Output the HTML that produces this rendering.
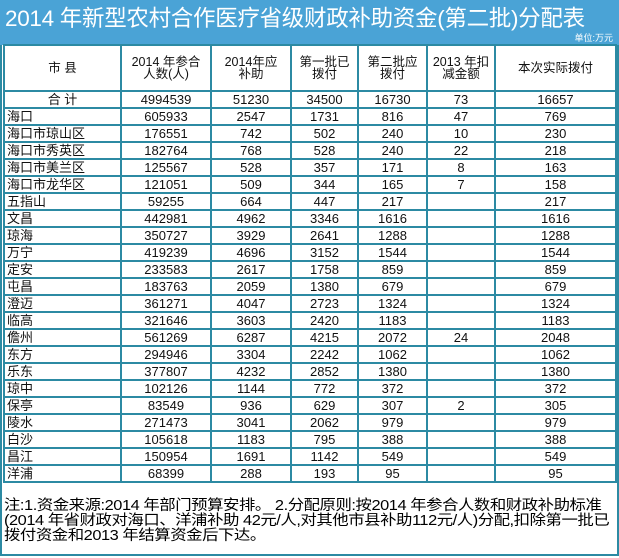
<!DOCTYPE html>
<html><head><meta charset="utf-8"><style>
body{margin:0;width:619px;height:558px;background:#fff;font-family:"Liberation Sans","Noto Sans CJK SC",sans-serif;overflow:hidden;position:relative}
#hd{position:absolute;left:0;top:0;width:619px;height:45px;background:#4aa3d6}
#t{position:absolute;left:5px;top:1px;font-size:22.5px;color:#fff;white-space:nowrap;letter-spacing:-0.3px}
#u{position:absolute;right:6px;top:31px;font-size:9px;color:#fff}
#frame{position:absolute;left:0;top:45px;width:615px;height:509px;border:2px solid #2c8aa3;border-top:none;background:#fff}
table{position:absolute;left:3px;top:44px;border-collapse:collapse;table-layout:fixed;font-size:13px;color:#111}
td{border:2px solid #2c8aa3;height:15px;padding:0;text-align:center;line-height:15px;overflow:hidden;white-space:nowrap}
td.l{text-align:left;padding-left:2px}
tr.h td{height:44px;font-size:12.5px;line-height:12px}
#note{position:absolute;left:4px;top:499px;font-size:14.5px;line-height:15px;color:#000;letter-spacing:-0.4px;white-space:nowrap;transform:scaleX(1.13);transform-origin:0 0}
</style></head><body>
<div id="frame"></div>
<div id="hd"><div id="t">2014 年新型农村合作医疗省级财政补助资金(第二批)分配表</div><div id="u">单位:万元</div></div>
<table>
<colgroup><col style="width:117px"><col style="width:90px"><col style="width:80px"><col style="width:67px"><col style="width:69px"><col style="width:68px"><col style="width:121px"></colgroup>
<tr class="h"><td>市 县</td><td>2014 年参合<br>人数(人)</td><td>2014年应<br>补助</td><td>第一批已<br>拨付</td><td>第二批应<br>拨付</td><td>2013 年扣<br>减金额</td><td>本次实际拨付</td></tr>
<tr><td>合 计</td><td>4994539</td><td>51230</td><td>34500</td><td>16730</td><td>73</td><td>16657</td></tr>
<tr><td class="l">海口</td><td>605933</td><td>2547</td><td>1731</td><td>816</td><td>47</td><td>769</td></tr>
<tr><td class="l">海口市琼山区</td><td>176551</td><td>742</td><td>502</td><td>240</td><td>10</td><td>230</td></tr>
<tr><td class="l">海口市秀英区</td><td>182764</td><td>768</td><td>528</td><td>240</td><td>22</td><td>218</td></tr>
<tr><td class="l">海口市美兰区</td><td>125567</td><td>528</td><td>357</td><td>171</td><td>8</td><td>163</td></tr>
<tr><td class="l">海口市龙华区</td><td>121051</td><td>509</td><td>344</td><td>165</td><td>7</td><td>158</td></tr>
<tr><td class="l">五指山</td><td>59255</td><td>664</td><td>447</td><td>217</td><td></td><td>217</td></tr>
<tr><td class="l">文昌</td><td>442981</td><td>4962</td><td>3346</td><td>1616</td><td></td><td>1616</td></tr>
<tr><td class="l">琼海</td><td>350727</td><td>3929</td><td>2641</td><td>1288</td><td></td><td>1288</td></tr>
<tr><td class="l">万宁</td><td>419239</td><td>4696</td><td>3152</td><td>1544</td><td></td><td>1544</td></tr>
<tr><td class="l">定安</td><td>233583</td><td>2617</td><td>1758</td><td>859</td><td></td><td>859</td></tr>
<tr><td class="l">屯昌</td><td>183763</td><td>2059</td><td>1380</td><td>679</td><td></td><td>679</td></tr>
<tr><td class="l">澄迈</td><td>361271</td><td>4047</td><td>2723</td><td>1324</td><td></td><td>1324</td></tr>
<tr><td class="l">临高</td><td>321646</td><td>3603</td><td>2420</td><td>1183</td><td></td><td>1183</td></tr>
<tr><td class="l">儋州</td><td>561269</td><td>6287</td><td>4215</td><td>2072</td><td>24</td><td>2048</td></tr>
<tr><td class="l">东方</td><td>294946</td><td>3304</td><td>2242</td><td>1062</td><td></td><td>1062</td></tr>
<tr><td class="l">乐东</td><td>377807</td><td>4232</td><td>2852</td><td>1380</td><td></td><td>1380</td></tr>
<tr><td class="l">琼中</td><td>102126</td><td>1144</td><td>772</td><td>372</td><td></td><td>372</td></tr>
<tr><td class="l">保亭</td><td>83549</td><td>936</td><td>629</td><td>307</td><td>2</td><td>305</td></tr>
<tr><td class="l">陵水</td><td>271473</td><td>3041</td><td>2062</td><td>979</td><td></td><td>979</td></tr>
<tr><td class="l">白沙</td><td>105618</td><td>1183</td><td>795</td><td>388</td><td></td><td>388</td></tr>
<tr><td class="l">昌江</td><td>150954</td><td>1691</td><td>1142</td><td>549</td><td></td><td>549</td></tr>
<tr><td class="l">洋浦</td><td>68399</td><td>288</td><td>193</td><td>95</td><td></td><td>95</td></tr>
</table>
<div id="note">注:1.资金来源:2014 年部门预算安排。 2.分配原则:按2014 年参合人数和财政补助标准<br>(2014 年省财政对海口、洋浦补助 42元/人,对其他市县补助112元/人)分配,扣除第一批已<br>拨付资金和2013 年结算资金后下达。</div>
</body></html>
